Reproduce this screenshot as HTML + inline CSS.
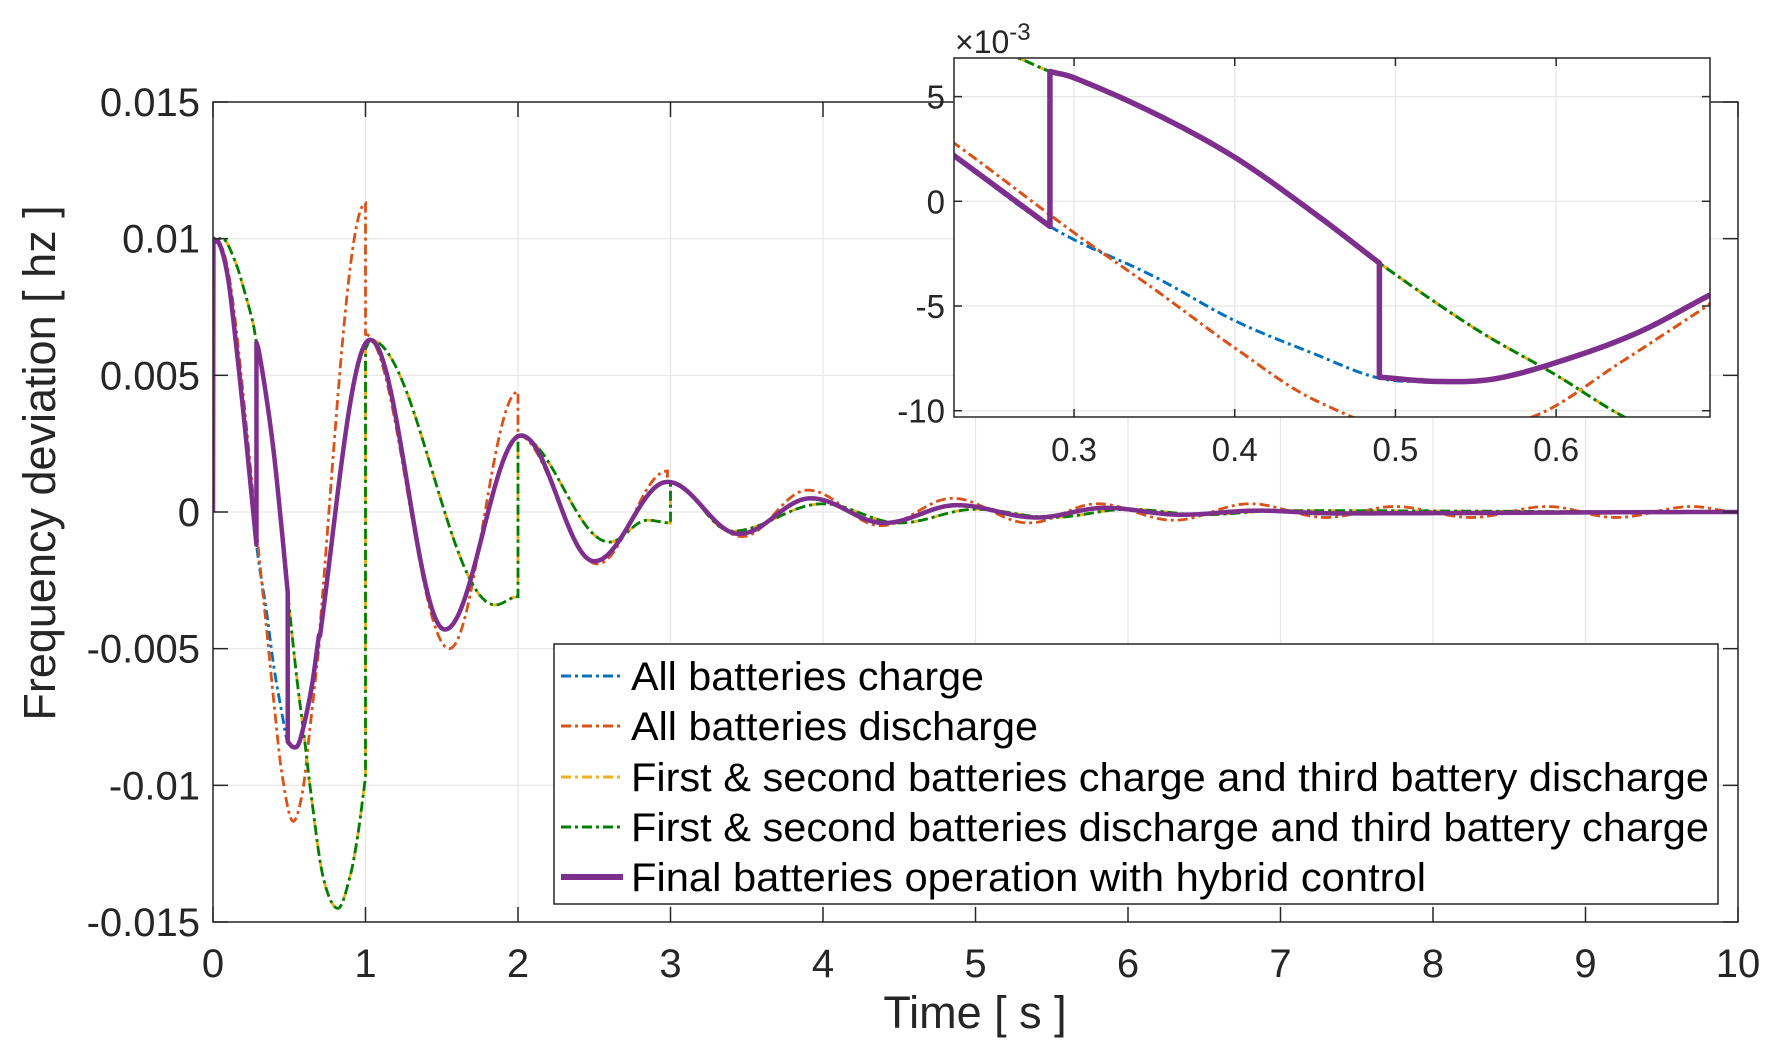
<!DOCTYPE html>
<html><head><meta charset="utf-8"><style>
html,body{margin:0;padding:0;background:#fff;}
svg{display:block;font-family:"Liberation Sans",Arial,sans-serif;}
</style></head><body>
<svg id="s" width="1778" height="1052" viewBox="0 0 1778 1052" xmlns="http://www.w3.org/2000/svg">
<defs>
<clipPath id="cm"><rect x="213" y="102" width="1525" height="820"/></clipPath>
<clipPath id="ci"><rect x="954" y="58" width="756" height="359"/></clipPath>
</defs>
<rect width="1778" height="1052" fill="#fff"/>
<g id="mgrid" stroke="#e6e6e6" stroke-width="1.2"></g>
<g id="mlines" clip-path="url(#cm)" fill="none"></g>
<rect x="213" y="102" width="1525" height="820" fill="none" stroke="#262626" stroke-width="1.5"/>
<g id="mticks" stroke="#262626" stroke-width="1.5"></g>
<g id="mlabels" fill="#262626" font-size="40"></g>
<text x="975" y="1028" font-size="45" text-anchor="middle" fill="#262626">Time [ s ]</text>
<text transform="translate(55,463) rotate(-90)" font-size="45" text-anchor="middle" fill="#262626">Frequency deviation [ hz ]</text>
<!-- legend -->
<rect x="554" y="644" width="1164" height="260" fill="#fff" stroke="#262626" stroke-width="1.5"/>
<g font-size="40" fill="#000">
<line x1="561" y1="676" x2="623" y2="676" stroke="#0072BD" stroke-width="3" stroke-dasharray="10 4 3 4"/>
<text x="631" y="690" textLength="353" lengthAdjust="spacingAndGlyphs">All batteries charge</text>
<line x1="561" y1="726" x2="623" y2="726" stroke="#D95319" stroke-width="3" stroke-dasharray="10 4 3 4"/>
<text x="631" y="740" textLength="407" lengthAdjust="spacingAndGlyphs">All batteries discharge</text>
<line x1="561" y1="777" x2="623" y2="777" stroke="#EDB120" stroke-width="3" stroke-dasharray="10 4 3 4"/>
<text x="631" y="791" textLength="1078" lengthAdjust="spacingAndGlyphs">First &amp; second batteries charge and third battery discharge</text>
<line x1="561" y1="827" x2="623" y2="827" stroke="#008000" stroke-width="3" stroke-dasharray="10 4 3 4"/>
<text x="631" y="841" textLength="1078" lengthAdjust="spacingAndGlyphs">First &amp; second batteries discharge and third battery charge</text>
<line x1="561" y1="877" x2="623" y2="877" stroke="#7E2F8E" stroke-width="6"/>
<text x="631" y="891" textLength="795" lengthAdjust="spacingAndGlyphs">Final batteries operation with hybrid control</text>
</g>
<!-- inset -->
<rect x="954" y="58" width="756" height="359" fill="#fff"/>
<g id="igrid" stroke="#e6e6e6" stroke-width="1.2"></g>
<g id="ilines" clip-path="url(#ci)" fill="none"></g>
<rect x="954" y="58" width="756" height="359" fill="none" stroke="#262626" stroke-width="1.5"/>
<g id="iticks" stroke="#262626" stroke-width="1.5"></g>
<g id="ilabels" fill="#262626" font-size="33"></g>
<text x="955" y="53" font-size="32" fill="#262626">×10<tspan dy="-13" font-size="24">-3</tspan></text>
</svg>
<script>
var NS="http://www.w3.org/2000/svg";
function el(p,tag,a,txt){var e=document.createElementNS(NS,tag);for(var k in a)e.setAttribute(k,a[k]);if(txt!==undefined)e.textContent=txt;document.getElementById(p).appendChild(e);return e;}
function X(t){return 213+t*152.5;} function Y(v){return 512-v/0.015*410;}
function Xi(t){return 954+(t-0.2253)*1607;} function Yi(v){return 201.3-v*20940;}
for(var i=0;i<=10;i++){var x=X(i);
 if(i>0&&i<10)el("mgrid","line",{x1:x,y1:102,x2:x,y2:922});
 el("mticks","line",{x1:x,y1:922,x2:x,y2:907});el("mticks","line",{x1:x,y1:102,x2:x,y2:117});
 el("mlabels","text",{x:x,y:977,"text-anchor":"middle"},String(i));}
var yl=["-0.015","-0.01","-0.005","0","0.005","0.01","0.015"];
for(var j=0;j<7;j++){var v=-0.015+j*0.005,y=Y(v);
 if(j>0&&j<6)el("mgrid","line",{x1:213,y1:y,x2:1738,y2:y});
 el("mticks","line",{x1:213,y1:y,x2:228,y2:y});el("mticks","line",{x1:1738,y1:y,x2:1723,y2:y});
 el("mlabels","text",{x:200,y:y+14,"text-anchor":"end"},yl[j]);}
[0.3,0.4,0.5,0.6].forEach(function(t){var x=Xi(t);el("igrid","line",{x1:x,y1:58,x2:x,y2:417});
 el("iticks","line",{x1:x,y1:417,x2:x,y2:409});el("iticks","line",{x1:x,y1:58,x2:x,y2:66});
 el("ilabels","text",{x:x,y:461,"text-anchor":"middle"},t.toFixed(1));});
[5,0,-5,-10].forEach(function(v){var y=Yi(v/1000);el("igrid","line",{x1:954,y1:y,x2:1710,y2:y});
 el("iticks","line",{x1:954,y1:y,x2:962,y2:y});el("iticks","line",{x1:1710,y1:y,x2:1702,y2:y});
 el("ilabels","text",{x:945,y:y+12,"text-anchor":"end"},String(v));});
function cr(k){var out=[];for(var i=0;i<k.length-1;i++){var p0=k[Math.max(0,i-1)],p1=k[i],p2=k[i+1],p3=k[Math.min(k.length-1,i+2)];
 var n=20;for(var s=0;s<n;s++){var u=s/n;
 var dt=p2[0]-p1[0];
 var m1=(p2[1]-p0[1])/(p2[0]-p0[0]||1)*dt, m2=(p3[1]-p1[1])/(p3[0]-p1[0]||1)*dt;
 if(i==0)m1=(p2[1]-p1[1]);if(i==k.length-2)m2=(p2[1]-p1[1]);
 var h00=2*u*u*u-3*u*u+1,h10=u*u*u-2*u*u+u,h01=-2*u*u*u+3*u*u,h11=u*u*u-u*u;
 out.push([p1[0]+u*dt,h00*p1[1]+h10*m1+h01*p2[1]+h11*m2]);}}
 out.push(k[k.length-1]);return out;}
function cs(k,from){var out=[];for(var i=0;i<k.length-1;i++){var a=k[i],b=k[i+1];var n=40;
 for(var s=0;s<=n;s++){var u=s/n,t=a[0]+u*(b[0]-a[0]);if(from!==undefined&&t<from)continue;
 var v=a[1]+(b[1]-a[1])*(1-Math.cos(Math.PI*u))/2;out.push([t,v]);}}return out;}
var P=cs([[0.525,-0.0086],[1.03,0.0063],[1.52,-0.0043],[2.02,0.0028],[2.5,-0.0018],[2.98,0.0011],[3.45,-0.0008],[3.92,0.0005],[4.4,-0.0004],[4.88,0.00025],[5.4,-0.0002],[5.85,0.00015],[6.35,-0.0001],[6.85,0.00005],[7.35,-0.00005],[10,0]],0.695);
var early=[[0.05,0.0097],[0.1,0.0085],[0.15,0.0062],[0.2,0.0036],[0.225,0.0022],[0.285,-0.0012]];
var purple=[[0,0]].concat(cr([[0.003,0.01]].concat(early)),
 cr([[0.285,0.0062],[0.3,0.0059],[0.35,0.0042],[0.4,0.0021],[0.45,-0.0006],[0.49,-0.00295]]),
 cr([[0.49,-0.0084],[0.525,-0.0086],[0.56,-0.0085],[0.6,-0.0077],[0.65,-0.0063],[0.695,-0.0045]]),P);
var blue=cr([[0,0.01]].concat(early,[[0.35,-0.0036],[0.4,-0.0057],[0.45,-0.0073],[0.49,-0.00845],[0.525,-0.0086],[0.56,-0.0085],[0.6,-0.0077],[0.65,-0.0063],[0.695,-0.0045]])).concat(P);
var orange=cr([[0,0.01],[0.05,0.0098],[0.1,0.0088],[0.15,0.0068],[0.225,0.0028],[0.3,-0.0015],[0.35,-0.0042],[0.4,-0.007],[0.45,-0.0095],[0.52,-0.0113],[0.587,-0.01024],[0.64,-0.0077],[0.695,-0.00495]]).concat(
 cs([[0.52,-0.0113],[1.0,0.0113]],0.7),cs([[1.0,0.0065],[1.55,-0.005],[2.0,0.0044]]),cs([[2.0,0.0028],[2.52,-0.0019],[2.98,0.0015]]),
 cs([[2.98,0.0011],[3.47,-0.0009],[3.9,0.0008],[4.38,-0.0005],[4.85,0.0005],[5.35,-0.0004],[5.8,0.0003],[6.3,-0.0003],[6.8,0.0003],[7.3,-0.0002],[7.75,0.0002],[8.25,-0.0002],[8.75,0.0002],[9.2,-0.0002],[9.7,0.0002],[10,0]]));
var green=cr([[0,0.0098],[0.07,0.01],[0.15,0.0091],[0.2,0.0082],[0.263,0.0069],[0.285,0.0062],[0.3,0.0059],[0.35,0.0042],[0.4,0.0021],[0.45,-0.0006],[0.49,-0.00295],[0.55,-0.0061],[0.6,-0.0083],[0.64,-0.0102],[0.72,-0.0133],[0.82,-0.0145],[0.9,-0.0133],[0.95,-0.0118],[1.0,-0.0097]]).concat(
 cs([[1.0,0.006],[1.03,0.0063],[1.85,-0.0034],[2.0,-0.0031]]),cs([[2.0,0.0028],[2.6,-0.0011],[2.85,-0.0003],[3.0,-0.0004]]),
 cs([[3.0,0.0011],[3.4,-0.0007],[4.0,0.0003],[4.5,-0.0004],[5.0,0.0001],[5.5,-0.0002],[6.0,0.0001],[6.5,-0.0001],[7,0.00005],[10,0]]));
function path(pts,fx,fy){return "M"+pts.map(function(p){return fx(p[0]).toFixed(2)+","+fy(p[1]).toFixed(2);}).join("L");}
function draw(g,fx,fy,pw,lw){
 var dd="10 4 3 4";
 el(g,"path",{d:path(blue,fx,fy),stroke:"#0072BD","stroke-width":lw,"stroke-dasharray":dd});
 el(g,"path",{d:path(orange,fx,fy),stroke:"#D95319","stroke-width":lw,"stroke-dasharray":dd});
 el(g,"path",{d:path(green,fx,fy),stroke:"#EDB120","stroke-width":lw,"stroke-dasharray":dd,"stroke-dashoffset":7});
 el(g,"path",{d:path(green,fx,fy),stroke:"#008000","stroke-width":lw,"stroke-dasharray":dd});
 el(g,"path",{d:path(purple,fx,fy),stroke:"#7E2F8E","stroke-width":pw,"stroke-linejoin":"round"});}
draw("mlines",X,Y,4.5,2.8);draw("ilines",Xi,Yi,5.5,3);
</script>
</body></html>
